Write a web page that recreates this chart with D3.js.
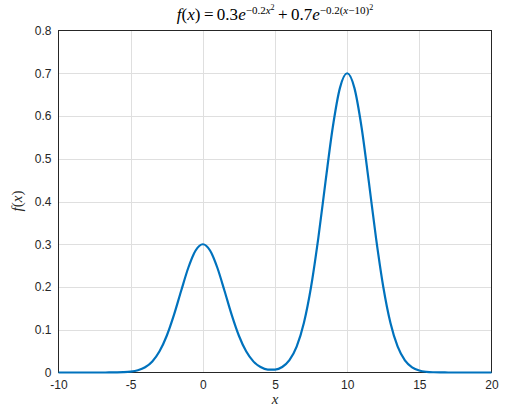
<!DOCTYPE html>
<html><head><meta charset="utf-8">
<script src="https://cdn.jsdelivr.net/npm/d3@7"></script>
<style>
html,body{margin:0;padding:0;background:#fff;}
svg{display:block;}
.tick text{font-family:"Liberation Sans",Arial,sans-serif;font-size:12px;fill:#262626;}
</style></head>
<body>
<script>
const xValues = [-10,-9.5,-9,-8.5,-8,-7.5,-7,-6.5,-6,-5.5,-5,-4.5,-4,-3.5,-3,-2.5,-2,-1.5,-1,-0.5,0,0.5,1,1.5,2,2.5,3,3.5,4,4.5,5,5.5,6,6.5,7,7.5,8,8.5,9,9.5,10,10.5,11,11.5,12,12.5,13,13.5,14,14.5,15,15.5,16,16.5,17,17.5,18,18.5,19,19.5,20];
const yValues = [0,0,0,0,0,0.000004,0.000017,0.000064,0.000224,0.000707,0.002021,0.005227,0.012229,0.025888,0.04959,0.085952,0.134799,0.191288,0.245619,0.285369,0.3,0.285369,0.245619,0.191288,0.134801,0.085961,0.049629,0.026038,0.012752,0.006878,0.006738,0.012902,0.028757,0.06047,0.115726,0.200558,0.31453,0.44634,0.573112,0.66586,0.7,0.66586,0.573112,0.44634,0.31453,0.200554,0.115709,0.060406,0.028533,0.012195,0.004717,0.001651,0.000523,0.00015,0.000039,0.000009,0,0,0,0,0];
const xTicks = [-10,-5,0,5,10,15,20];
const yTicks = [0,0.1,0.2,0.3,0.4,0.5,0.6,0.7,0.8];
const xTickLabels = ["-10","-5","0","5","10","15","20"];
const yTickLabels = ["0","0.1","0.2","0.3","0.4","0.5","0.6","0.7","0.8"];

const W = 529, H = 413;
const L = 58.5, R = 491.5, T = 30.5, B = 372.5;
const svg = d3.select("body").append("svg").attr("width", W).attr("height", H);

const x = d3.scaleLinear().domain([-10, 20]).range([L, R]);
const y = d3.scaleLinear().domain([0, 0.8]).range([B, T]);

// grid
const g = svg.append("g");
g.selectAll("line.gx").data(xTicks.slice(1, -1)).enter().append("line")
  .attr("x1", d => Math.round(x(d)) + 0.5).attr("x2", d => Math.round(x(d)) + 0.5)
  .attr("y1", T).attr("y2", B).attr("stroke", "#dfdfdf").attr("stroke-width", 1);
g.selectAll("line.gy").data(yTicks.slice(1, -1)).enter().append("line")
  .attr("y1", d => Math.round(y(d)) + 0.5).attr("y2", d => Math.round(y(d)) + 0.5)
  .attr("x1", L).attr("x2", R).attr("stroke", "#dfdfdf").attr("stroke-width", 1);

// axes
const xAxis = d3.axisBottom(x).tickValues(xTicks).tickFormat((d, i) => xTickLabels[i]).tickSize(0).tickPadding(8);
const yAxis = d3.axisLeft(y).tickValues(yTicks).tickFormat((d, i) => yTickLabels[i]).tickSize(0).tickPadding(7);
svg.append("g").attr("transform", `translate(0,${B})`).call(xAxis).call(s => s.select(".domain").remove());
svg.append("g").attr("transform", `translate(${L},0)`).call(yAxis).call(s => s.select(".domain").remove());

// box
svg.append("rect").attr("x", L).attr("y", T).attr("width", R - L).attr("height", B - T)
  .attr("fill", "none").attr("stroke", "#262626").attr("stroke-width", 1);

// curve
const line = d3.line().x((d, i) => x(xValues[i])).y(d => y(d)).curve(d3.curveMonotoneX);
svg.append("path").datum(yValues).attr("d", line)
  .attr("fill", "none").attr("stroke", "#0072BD").attr("stroke-width", 2.2).attr("stroke-linejoin", "round");

// labels
const serif = '"Liberation Serif","Times New Roman",serif';
svg.append("text").attr("x", (L + R) / 2).attr("y", 404).attr("text-anchor", "middle")
  .attr("font-family", serif).attr("font-style", "italic").attr("font-size", 15).attr("fill", "#262626").text("x");

const yl = svg.append("text").attr("transform", "translate(22,201) rotate(-90)").attr("text-anchor", "middle")
  .attr("font-family", serif).attr("font-size", 15).attr("fill", "#262626");
yl.append("tspan").attr("font-style", "italic").text("f");
yl.append("tspan").text("(");
yl.append("tspan").attr("font-style", "italic").text("x");
yl.append("tspan").text(")");

// title
const tb = 20;
const title = svg.append("text").attr("x", (L + R) / 2).attr("y", tb).attr("text-anchor", "middle")
  .attr("font-family", serif).attr("font-size", 17).attr("fill", "#000");
const parts = [
  ["f", true, 0, 17], ["(", false, 0, 17], ["x", true, 0, 17], [")\u2009=\u20090.3", false, 0, 17], ["e", true, 0, 17],
  ["\u22120.2", false, -6.5, 11], ["x", true, -6.5, 11], ["2", false, -10.5, 8],
  ["\u2009+\u20090.7", false, 0, 17], ["e", true, 0, 17],
  ["\u22120.2(", false, -6.5, 11], ["x", true, -6.5, 11], ["\u221210)", false, -6.5, 11], ["2", false, -10.5, 8]
];
let cur = 0;
parts.forEach(p => {
  title.append("tspan").attr("dy", p[2] - cur).attr("font-size", p[3])
    .attr("font-style", p[1] ? "italic" : "normal").text(p[0]);
  cur = p[2];
});
</script>
</body></html>
